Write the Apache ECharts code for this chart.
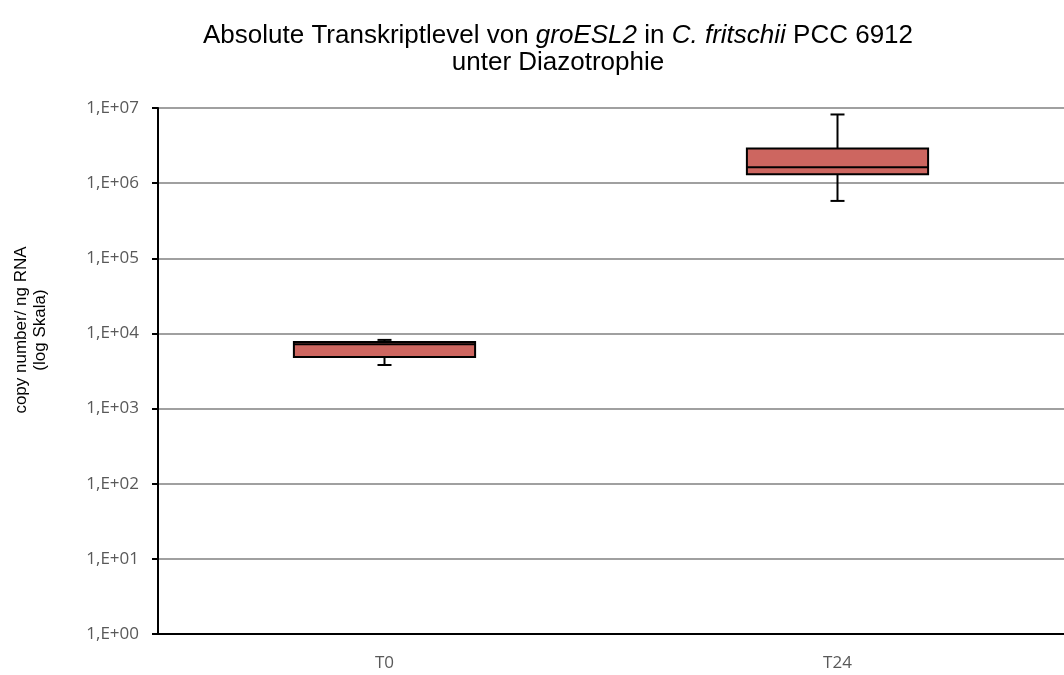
<!DOCTYPE html>
<html>
<head>
<meta charset="utf-8">
<script src="https://cdn.jsdelivr.net/npm/echarts@6/dist/echarts.min.js"></script>
<style>
  html, body { margin: 0; padding: 0; background: #fff; }
  #main { width: 1064px; height: 675px; }
</style>
</head>
<body>
<div id="main"></div>
<script>
// Zeitpunkte
var categories = ['T0', 'T24'];
// copy number / ng RNA, je Zeitpunkt: Minimum, Q1, Median, Q3, Maximum
var whiskerLow = [3800, 580000];
var q1 = [4850, 1310000];
var median = [7200, 1630000];
var q3 = [7700, 2900000];
var whiskerHigh = [8200, 8200000];
var yMin = 1;
var yMax = 10000000;

var boxData = categories.map(function (c, i) {
  return [i, whiskerLow[i], q1[i], median[i], q3[i], whiskerHigh[i]];
});

function renderBox(params, api) {
  var i = api.value(0);
  var pLow = api.coord([i, api.value(1)]);
  var pQ1 = api.coord([i, api.value(2)]);
  var pMed = api.coord([i, api.value(3)]);
  var pQ3 = api.coord([i, api.value(4)]);
  var pHigh = api.coord([i, api.value(5)]);
  var band = Math.abs(api.coord([1, 1])[0] - api.coord([0, 1])[0]);
  var half = band * 0.2;
  var cap = 7;
  var x = pMed[0];
  var line = { stroke: '#000', lineWidth: 2 };
  return {
    type: 'group',
    children: [
      { type: 'line', shape: { x1: x, y1: pHigh[1], x2: x, y2: pQ3[1] }, style: line },
      { type: 'line', shape: { x1: x - cap, y1: pHigh[1], x2: x + cap, y2: pHigh[1] }, style: line },
      { type: 'line', shape: { x1: x, y1: pLow[1], x2: x, y2: pQ1[1] }, style: line },
      { type: 'line', shape: { x1: x - cap, y1: pLow[1], x2: x + cap, y2: pLow[1] }, style: line },
      { type: 'rect', shape: { x: x - half, y: pQ3[1], width: half * 2, height: pQ1[1] - pQ3[1] },
        style: { fill: '#cd6660', stroke: '#000', lineWidth: 2 } },
      { type: 'line', shape: { x1: x - half, y1: pMed[1], x2: x + half, y2: pMed[1] }, style: line }
    ]
  };
}

var chart = echarts.init(document.getElementById('main'));

var option = {
  animation: false,
  title: {
    text: '{n|Absolute Transkriptlevel von }{i|groESL2}{n| in }{i|C. fritschii}{n| PCC 6912}\n{n|unter Diazotrophie}',
    left: 553,
    top: 17,
    textAlign: 'center',
    textStyle: {
      rich: {
        n: { fontFamily: 'Liberation Sans', fontSize: 26, fontWeight: 'normal', color: '#000', lineHeight: 27 },
        i: { fontFamily: 'Liberation Sans', fontSize: 26, fontWeight: 'normal', color: '#000', fontStyle: 'italic', lineHeight: 27 }
      }
    }
  },
  graphic: [{
    type: 'text',
    x: 31,
    y: 330,
    rotation: Math.PI / 2,
    style: {
      text: 'copy number/ ng RNA\n(log Skala)',
      fontFamily: 'Liberation Sans',
      fontSize: 17,
      lineHeight: 19,
      fill: '#000',
      align: 'center',
      verticalAlign: 'middle'
    }
  }],
  grid: {
    left: 158,
    right: -12,
    top: 108,
    bottom: 41
  },
  xAxis: {
    type: 'category',
    data: categories,
    axisLine: { lineStyle: { color: '#000', width: 2 } },
    axisTick: { show: false },
    axisLabel: {
      color: '#595959',
      fontFamily: 'Open Sans',
      fontSize: 17,
      margin: 21
    }
  },
  yAxis: {
    type: 'log',
    logBase: 10,
    min: yMin,
    max: yMax,
    axisLine: { show: true, lineStyle: { color: '#000', width: 2 } },
    axisTick: { show: true, inside: false, length: 6, lineStyle: { color: '#000', width: 2 } },
    splitLine: { show: true, lineStyle: { color: '#a0a0a0', width: 2 } },
    axisLabel: {
      color: '#595959',
      fontFamily: 'Open Sans',
      fontSize: 17,
      margin: 19,
      formatter: function (v) {
        var e = Math.round(Math.log10(v));
        return '1,E+' + (e < 10 ? '0' + e : e);
      }
    }
  },
  series: [{
    type: 'custom',
    renderItem: renderBox,
    encode: { x: 0, y: [1, 2, 3, 4, 5] },
    data: boxData
  }]
};

chart.setOption(option);
</script>
</body>
</html>
